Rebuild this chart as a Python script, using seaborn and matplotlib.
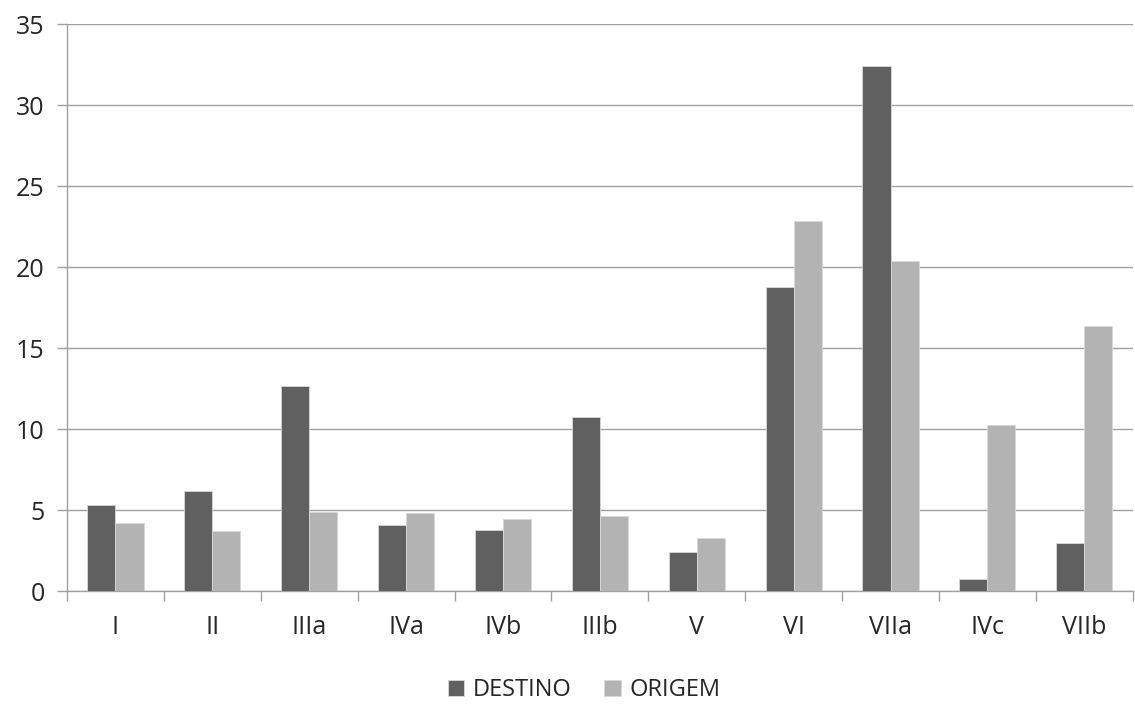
import pandas as pd
import numpy as np
import matplotlib.pyplot as plt
import seaborn as sns

# data
categorias = ["I", "II", "IIIa", "IVa", "IVb", "IIIb", "V", "VI", "VIIa", "IVc", "VIIb"]
destino = [5.3, 6.2, 12.65, 4.07, 3.77, 10.75, 2.43, 18.75, 32.45, 0.75, 2.95]
origem = [4.22, 3.7, 4.9, 4.81, 4.46, 4.62, 3.29, 22.85, 20.4, 10.25, 16.35]

df = pd.DataFrame({
    "cat": categorias * 2,
    "valor": destino + origem,
    "serie": ["DESTINO"] * len(categorias) + ["ORIGEM"] * len(categorias),
})

sns.set_style("white")
plt.rcParams["font.family"] = ["Open Sans", "DejaVu Sans"]

fig = plt.figure(figsize=(11.35, 7.04), dpi=100)
ax = fig.add_axes([0.059, 0.1605, 0.939, 0.805])

palette = {"DESTINO": "#606060", "ORIGEM": "#b3b3b3"}
sns.barplot(data=df, x="cat", y="valor", hue="serie", palette=palette,
            width=0.58, gap=0, saturation=1, edgecolor="#d8d8d8", linewidth=0.6,
            ax=ax, zorder=3)

ax.set_ylim(0, 35)
ax.set_xlim(-0.5, len(categorias) - 0.5)
ax.set_yticks(np.arange(0, 36, 5))
ax.yaxis.grid(True, color="#a0a0a0", linewidth=1, zorder=0)
ax.set_axisbelow(True)

# tick marks at category boundaries
ax.set_xticks(np.arange(-0.5, len(categorias), 1), minor=True)
ax.tick_params(axis="x", which="minor", length=7, color="#a0a0a0", width=1, direction="out", bottom=True)
ax.tick_params(axis="x", which="major", length=0, labelsize=18, pad=17)
ax.tick_params(axis="y", length=7, color="#a0a0a0", width=1, direction="out", left=True, labelsize=18, pad=9)

for s in ["top", "right"]:
    ax.spines[s].set_visible(False)
for s in ["left", "bottom"]:
    ax.spines[s].set_color("#a0a0a0")
    ax.spines[s].set_linewidth(1)

ax.set_xlabel("")
ax.set_ylabel("")

ax.legend(loc="center", bbox_to_anchor=(0.485, -0.175), ncol=2, frameon=False,
          fontsize=17, handlelength=0.7, handleheight=0.7, handletextpad=0.35, columnspacing=1.4)

fig.savefig("out.png", dpi=100)
